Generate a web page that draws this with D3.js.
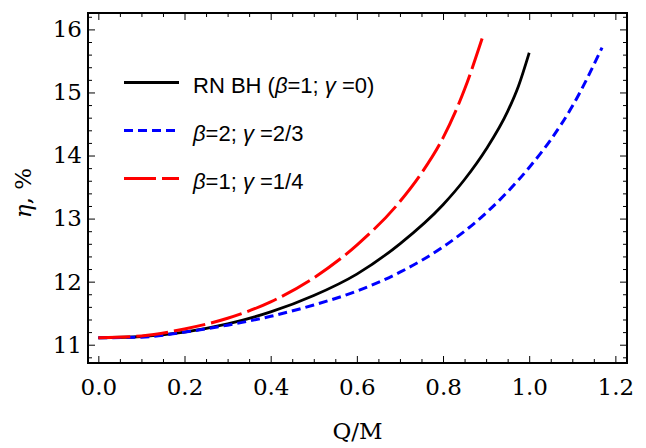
<!DOCTYPE html>
<html>
<head>
<meta charset="utf-8">
<script src="https://cdn.jsdelivr.net/npm/d3@7"></script>
<style>
  body { margin: 0; background: #fff; }
  svg { display: block; }
  .tick text { font-family: "DejaVu Serif", serif; font-size: 23px; fill: #000; }
  .tick line { stroke: #000; stroke-width: 1; }
  .domain { display: none; }
</style>
</head>
<body>
<svg id="chart" width="646" height="448"></svg>
<script>
// values
const qRN = [0, 0.1, 0.2, 0.3, 0.4, 0.5, 0.6, 0.7, 0.8, 0.85, 0.9, 0.95, 0.975, 1.0];
const etaRN = [11.11, 11.13, 11.2, 11.33, 11.52, 11.78, 12.12, 12.6, 13.22, 13.62, 14.1, 14.7, 15.1, 15.63];

const qB2 = [0, 0.1, 0.2, 0.3, 0.4, 0.5, 0.6, 0.7, 0.8, 0.9, 1.0, 1.05, 1.1, 1.169];
const etaB2 = [11.11, 11.12, 11.2, 11.31, 11.45, 11.63, 11.85, 12.15, 12.55, 13.09, 13.81, 14.25, 14.78, 15.71];

const qG14 = [0, 0.1, 0.2, 0.3, 0.4, 0.5, 0.6, 0.7, 0.75, 0.8, 0.85, 0.891];
const etaG14 = [11.11, 11.14, 11.25, 11.42, 11.68, 12.06, 12.58, 13.27, 13.72, 14.28, 15.05, 15.86];

const xTicks = [0, 0.2, 0.4, 0.6, 0.8, 1.0, 1.2];
const yTicks = [11, 12, 13, 14, 15, 16];

// legend labels, split so the greek letters can be set in italic
const legendLabels = [
  [["RN BH (", false], ["β", true], ["=1; ", false], ["γ", true], [" =0)", false]],
  [["β", true], ["=2; ", false], ["γ", true], [" =2/3", false]],
  [["β", true], ["=1; ", false], ["γ", true], [" =1/4", false]]
];

const series = [
  {q: qRN, eta: etaRN, color: "#000", width: 2.8, dash: null},
  {q: qB2, eta: etaB2, color: "#0000ff", width: 3, dash: "9,5"},
  {q: qG14, eta: etaG14, color: "#ff0000", width: 3, dash: "32,6"}
];

const svg = d3.select("#chart");
const pLeft = 88, pRight = 627, pTop = 13, pBottom = 363;

let x = d3.scaleLinear().domain([-0.024, 1.227]).range([pLeft, pRight]);
let y = d3.scaleLinear().domain([10.71, 16.26]).range([pBottom, pTop]);

let xMinor = d3.range(0, 1.2001, 0.05).filter(v => Math.abs(v / 0.2 - Math.round(v / 0.2)) > 1e-6);
let yMinor = d3.range(10.8, 16.21, 0.2).filter(v => Math.abs(v - Math.round(v)) > 1e-6);

// minor ticks all round the frame
svg.append("g").attr("transform", `translate(0,${pBottom})`)
  .call(d3.axisBottom(x).tickValues(xMinor).tickSize(-4).tickFormat(""));
svg.append("g").attr("transform", `translate(0,${pTop})`)
  .call(d3.axisTop(x).tickValues(xMinor).tickSize(-4).tickFormat(""));
svg.append("g").attr("transform", `translate(${pLeft},0)`)
  .call(d3.axisLeft(y).tickValues(yMinor).tickSize(-4).tickFormat(""));
svg.append("g").attr("transform", `translate(${pRight},0)`)
  .call(d3.axisRight(y).tickValues(yMinor).tickSize(-4).tickFormat(""));

// major ticks
svg.append("g").attr("transform", `translate(0,${pBottom})`)
  .call(d3.axisBottom(x).tickValues(xTicks).tickSize(-7).tickPadding(16).tickFormat(d3.format(".1f")));
svg.append("g").attr("transform", `translate(0,${pTop})`)
  .call(d3.axisTop(x).tickValues(xTicks).tickSize(-7).tickFormat(""));
svg.append("g").attr("transform", `translate(${pLeft},0)`)
  .call(d3.axisLeft(y).tickValues(yTicks).tickSize(-7).tickPadding(6).tickFormat(d3.format("d")));
svg.append("g").attr("transform", `translate(${pRight},0)`)
  .call(d3.axisRight(y).tickValues(yTicks).tickSize(-7).tickFormat(""));

// curves
let line = d3.line().curve(d3.curveMonotoneX);
series.forEach(s => {
  let pts = s.q.map((q, i) => [x(q), y(s.eta[i])]);
  svg.append("path")
    .attr("d", line(pts))
    .attr("fill", "none")
    .attr("stroke", s.color)
    .attr("stroke-width", s.width)
    .attr("stroke-dasharray", s.dash);
});

// frame
svg.append("rect")
  .attr("x", pLeft).attr("y", pTop)
  .attr("width", pRight - pLeft).attr("height", pBottom - pTop)
  .attr("fill", "none").attr("stroke", "#000").attr("stroke-width", 2);

// legend
let legend = svg.append("g");
series.forEach((s, i) => {
  let ly = 82.5 + i * 48;
  legend.append("line")
    .attr("x1", 124).attr("x2", 179).attr("y1", ly).attr("y2", ly)
    .attr("stroke", s.color).attr("stroke-width", s.width)
    .attr("stroke-dasharray", s.dash);
  let t = legend.append("text")
    .attr("x", 193).attr("y", ly + 10)
    .attr("font-family", "Liberation Sans, Arial, sans-serif")
    .attr("font-size", 22);
  legendLabels[i].forEach(part => {
    t.append("tspan")
      .attr("font-style", part[1] ? "italic" : null)
      .text(part[0]);
  });
});

// axis titles
svg.append("text")
  .attr("x", (pLeft + pRight) / 2).attr("y", 439)
  .attr("text-anchor", "middle")
  .attr("font-family", "DejaVu Serif, serif")
  .attr("font-size", 23)
  .text("Q/M");

svg.append("text")
  .attr("transform", `translate(31,${(pTop + pBottom) / 2 + 5}) rotate(-90)`)
  .attr("text-anchor", "middle")
  .attr("font-family", "DejaVu Serif, serif")
  .attr("font-size", 23)
  .html('<tspan font-style="italic">η</tspan>, %');
</script>
</body>
</html>
